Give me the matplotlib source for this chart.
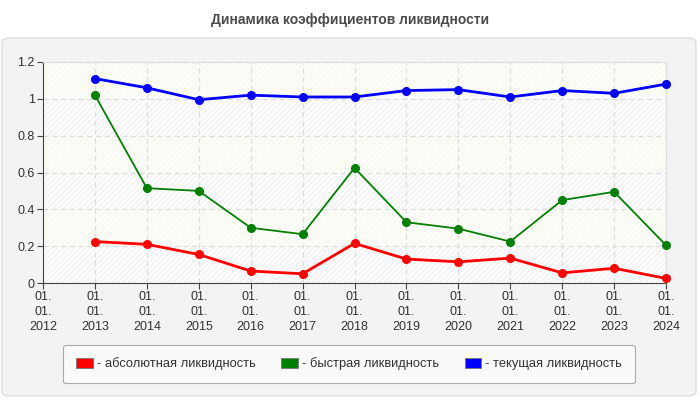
import matplotlib
matplotlib.use("Agg")
import matplotlib.pyplot as plt
from matplotlib.patches import FancyBboxPatch, Patch

plt.rcParams['font.family'] = ['Liberation Sans', 'DejaVu Sans']
plt.rcParams['hatch.linewidth'] = 0.5

years = [2012, 2013, 2014, 2015, 2016, 2017, 2018, 2019, 2020, 2021, 2022, 2023, 2024]
tick_labels = ["01.\n01.\n%d" % y for y in years]
data_years = years[1:]
absolute = [0.225, 0.21, 0.155, 0.065, 0.05, 0.215, 0.13, 0.115, 0.135, 0.055, 0.08, 0.025]
quick = [1.02, 0.515, 0.50, 0.30, 0.265, 0.625, 0.33, 0.295, 0.225, 0.45, 0.495, 0.205]
current = [1.11, 1.06, 0.995, 1.02, 1.01, 1.01, 1.045, 1.05, 1.01, 1.045, 1.03, 1.08]
labels = ["- абсолютная ликвидность", "- быстрая ликвидность", "- текущая ликвидность"]
colors = ["#ff0000", "#008000", "#0000ff"]

fig = plt.figure(figsize=(7, 4), dpi=100)
fig.patch.set_facecolor("white")

panel = FancyBboxPatch((2/700, 4/400), 694/700, 358/400,
                       boxstyle="round,pad=0,rounding_size=0.012",
                       transform=fig.transFigure, facecolor="#f3f3f3",
                       edgecolor="#dddddd", linewidth=1, zorder=-10)
fig.patches.append(panel)

fig.text(0.5, 380/400, "Динамика коэффициентов ликвидности", ha="center", va="center",
         fontsize=10, fontweight="bold", color="#4a4a4a")

ax = fig.add_axes([43/700, (400-283)/400, (666-43)/700, (283-62)/400])
ax.set_zorder(1)
ax.set_facecolor("#fdfdf9")
yt = [0, 0.2, 0.4, 0.6, 0.8, 1.0, 1.2]
for i in range(6):
    if i % 2 == 0:
        ax.axhspan(yt[i], yt[i+1], facecolor="#fcfcfc", edgecolor="#ebebeb",
                   hatch="//////", linewidth=0, zorder=0)
    else:
        ax.axhspan(yt[i], yt[i+1], facecolor="#fdfdf8", edgecolor="#f4f4ee",
                   hatch="//////", linewidth=0, zorder=0)

lines = [absolute, quick, current]
widths = [2.0, 1.3, 2.0]
for vals, c, w in zip(lines, colors, widths):
    ax.plot(data_years, vals, color=c, linewidth=w, marker="o", markersize=5.5,
            zorder=3, clip_on=False)

ax.set_xlim(2012, 2024)
ax.set_ylim(0, 1.2)
ax.set_xticks(years)
ax.set_xticklabels(tick_labels, fontsize=9, color="#333333", linespacing=1.3)
ax.set_yticks(yt)
ax.set_yticklabels(["0", "0.2", "0.4", "0.6", "0.8", "1", "1.2"], fontsize=9, color="#333333")
ax.grid(True, color="#dddddd", linestyle=(0, (4, 3)), linewidth=0.9, zorder=1)
ax.set_axisbelow(True)
for s in ["top", "right"]:
    ax.spines[s].set_color("#dddddd")
for s in ["left", "bottom"]:
    ax.spines[s].set_color("#444444")
ax.tick_params(axis="both", direction="out", length=4, color="#444444", pad=2)

handles = [Patch(facecolor=c, edgecolor="#777777", linewidth=0.6) for c in colors]
leg = fig.legend(handles, labels, loc="center", bbox_to_anchor=(349/700, (400-364)/400),
                 ncol=3, frameon=True, fontsize=9.3, handlelength=1.3, handleheight=0.75,
                 handletextpad=0.3, columnspacing=2.0, borderpad=1.0, fancybox=True,
                 edgecolor="#aaaaaa", facecolor="#fafafa", labelcolor="#333333")
leg.get_frame().set_linewidth(0.8)
leg.get_frame().set_alpha(1)

fig.savefig("out.png", dpi=100, facecolor="white")
